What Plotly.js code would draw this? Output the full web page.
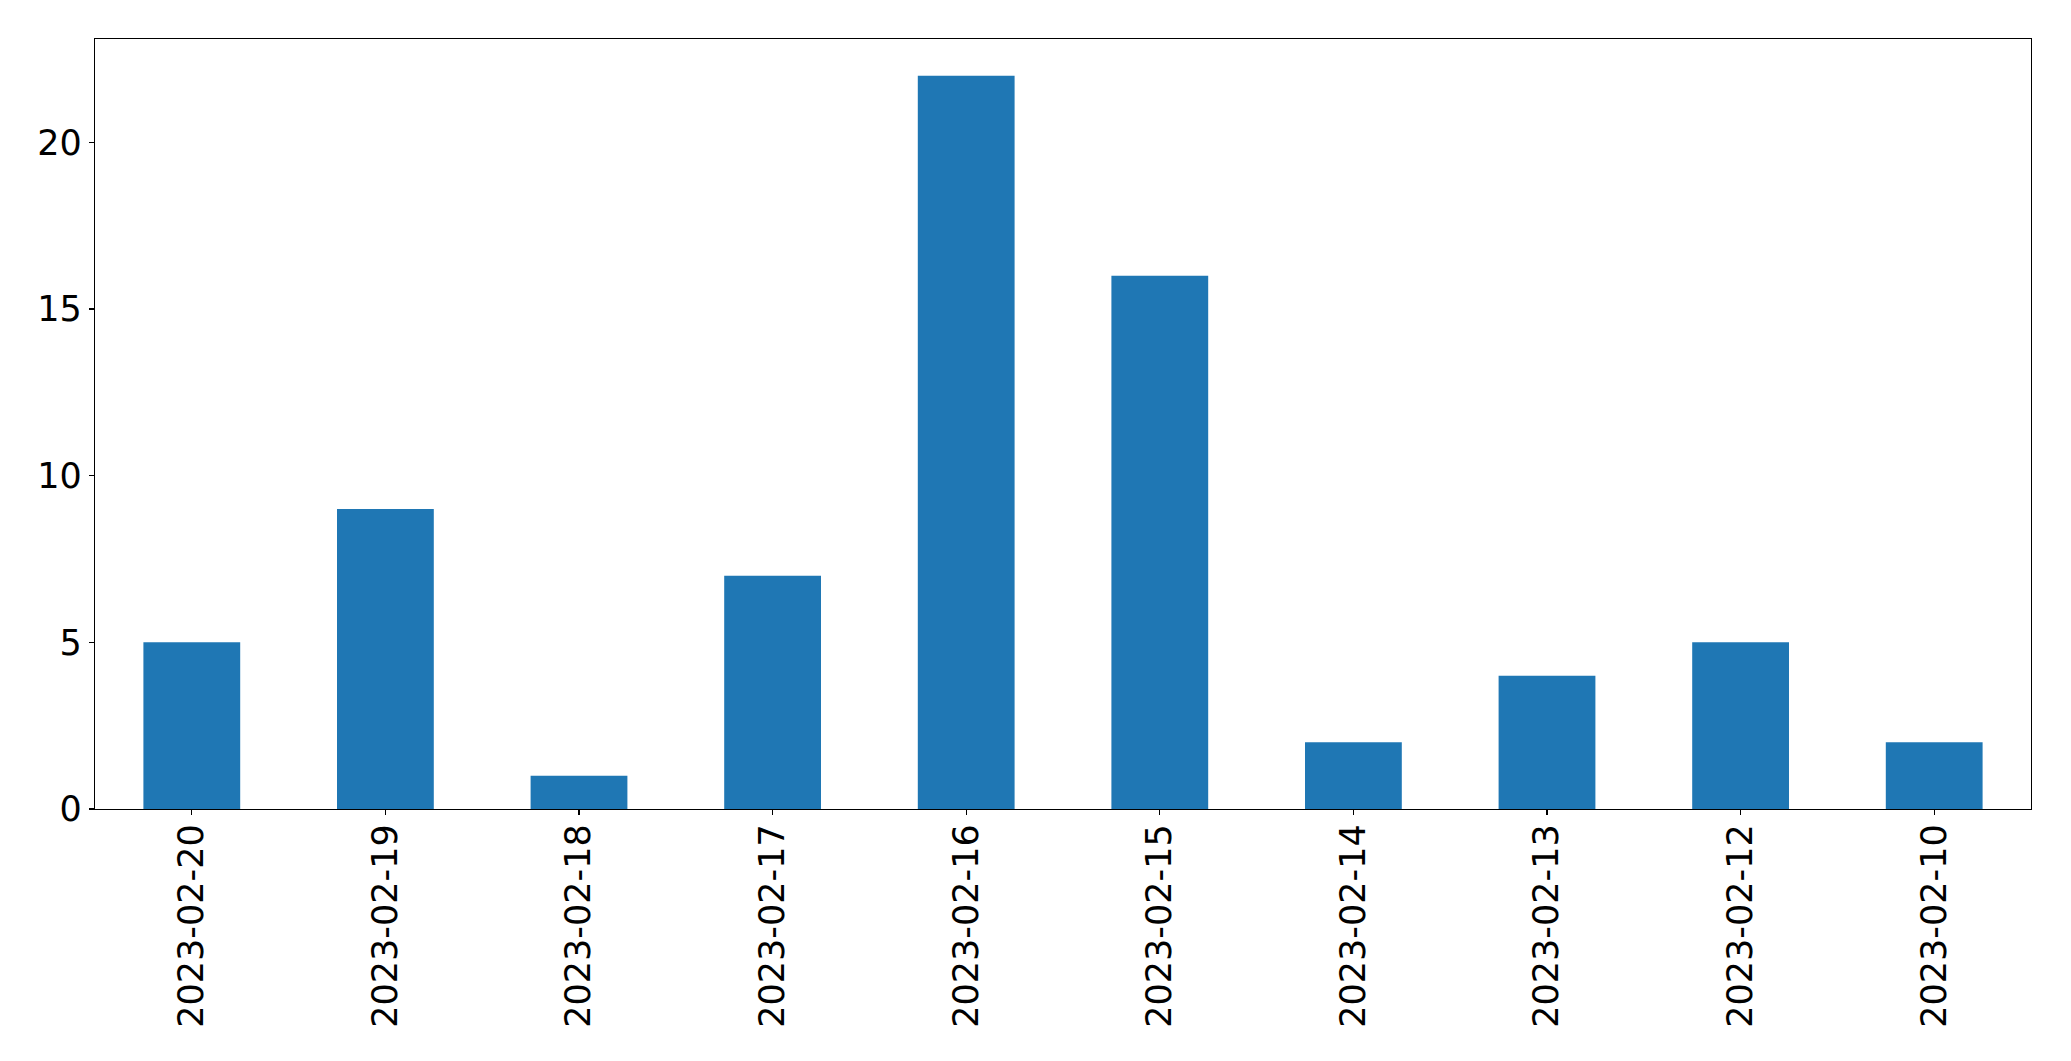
<!DOCTYPE html>
<html>
<head>
<meta charset="utf-8">
<script src="https://cdn.plot.ly/plotly-3.0.1.min.js"></script>
<style>html,body{margin:0;padding:0;background:#fff;}#chart{width:2071px;height:1061px;}</style>
</head>
<body>
<div id="chart"></div>
<script>
const dates = ["2023-02-20","2023-02-19","2023-02-18","2023-02-17","2023-02-16","2023-02-15","2023-02-14","2023-02-13","2023-02-12","2023-02-10"];
const counts = [5, 9, 1, 7, 22, 16, 2, 4, 5, 2];
const yTicks = [0, 5, 10, 15, 20];

const trace = {
  type: 'bar',
  x: dates,
  y: counts,
  width: 0.5,
  marker: {color: '#1f77b4', line: {width: 0}},
  hoverinfo: 'x+y'
};
const axisFont = {family: 'DejaVu Sans', size: 35, color: '#000'};
const layout = {
  width: 2071, height: 1061,
  margin: {l: 95, r: 40, t: 39, b: 252, pad: 0},
  paper_bgcolor: '#fff', plot_bgcolor: '#fff',
  showlegend: false,
  bargap: 0.5,
  xaxis: {
    type: 'category',
    range: [-0.5, dates.length - 0.5],
    tickangle: -90,
    ticks: 'outside', ticklen: 5, tickwidth: 1.3, tickcolor: '#000',
    showline: true, linecolor: '#000', linewidth: 1.3, mirror: true,
    showgrid: false, zeroline: false,
    tickfont: axisFont,
    ticklabelstandoff: -5
  },
  yaxis: {
    range: [0, 23.1],
    tickvals: yTicks,
    ticktext: yTicks.map(String),
    ticks: 'outside', ticklen: 5, tickwidth: 1.3, tickcolor: '#000',
    showline: true, linecolor: '#000', linewidth: 1.3, mirror: true,
    showgrid: false, zeroline: false,
    tickfont: axisFont,
    ticklabelstandoff: 0
  }
};
Plotly.newPlot('chart', [trace], layout, {displayModeBar: false, staticPlot: true});
</script>
</body>
</html>
